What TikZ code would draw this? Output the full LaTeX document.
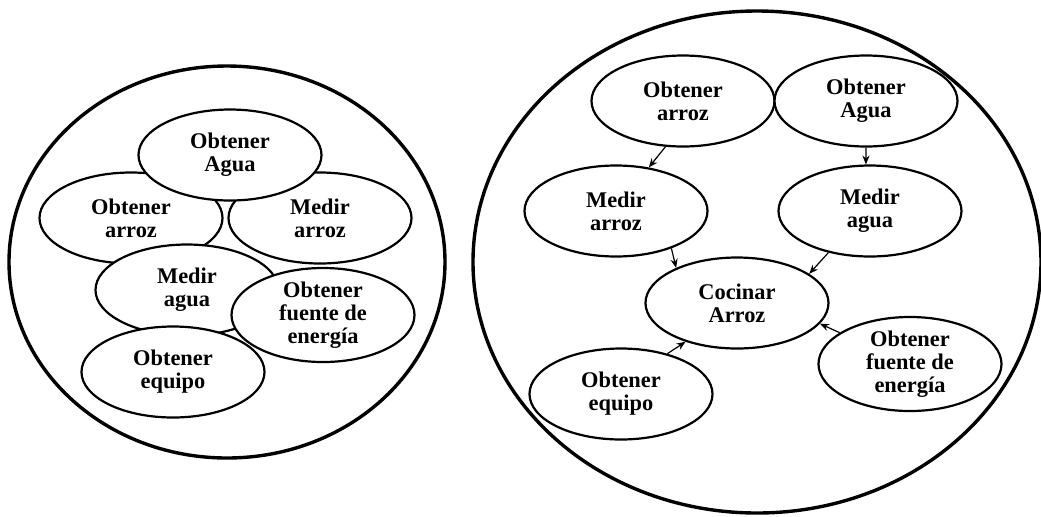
\documentclass[tikz,border=0pt]{standalone}
\usepackage{fontspec}
\setmainfont{Liberation Serif}
\usetikzlibrary{arrows.meta,shapes.geometric}

\begin{document}
\begin{tikzpicture}[x=0.5pt,y=-0.5pt,
    tarea/.style={draw, ellipse, fill=white, line width=1.1pt,
      minimum width=91.5pt, minimum height=45.5pt, inner sep=0pt,
      align=center, font=\bfseries\fontsize{11.2}{11.5}\selectfont},
    flecha/.style={-{Stealth[length=4.5pt,width=3.6pt]}, line width=0.6pt},
    borde/.style={line width=1.7pt}]
      \useasboundingbox (0,0) rectangle (1041,516);
      % sin orden
      \draw [borde] (227,262) ellipse (218 and 196);
      \node [tarea] (larroz) at (131,218) {Obtener\\arroz};
      \node [tarea] (lmarroz) at (320,218) {Medir\\arroz};
      \node [tarea] (lagua) at (230,155) {Obtener\\Agua};
      \node [tarea] (lmagua) at (187,290) {Medir\\agua};
      \node [tarea] (lfuente) at (323,315) {Obtener\\fuente de\\energía};
      \node [tarea] (lequipo) at (173,372) {Obtener\\equipo};
      % con orden
      \draw [borde] (757,262) ellipse (284 and 251);
      \node [tarea] (oarroz) at (683,101) {Obtener\\arroz};
      \node [tarea] (oagua) at (866,101) {Obtener\\Agua};
      \node [tarea] (marroz) at (616,211) {Medir\\arroz};
      \node [tarea] (magua) at (870,211) {Medir\\agua};
      \node [tarea] (cocinar) at (737,303) {Cocinar\\Arroz};
      \node [tarea] (oequipo) at (621,394) {Obtener\\equipo};
      \node [tarea] (ofuente) at (910,364) {Obtener\\fuente de\\energía};
      \draw [flecha] (oarroz.-111) -- (marroz.53);
      \draw [flecha] (oagua.south) -- (magua.95);
      \draw [flecha] (marroz.-34) -- (cocinar.150);
      \draw [flecha] (magua.-135) -- (cocinar.22);
      \draw [flecha] (oequipo.41) -- (cocinar.-143);
      \draw [flecha] (ofuente.156) -- (cocinar.-14);
   \end{tikzpicture}
\end{document}
